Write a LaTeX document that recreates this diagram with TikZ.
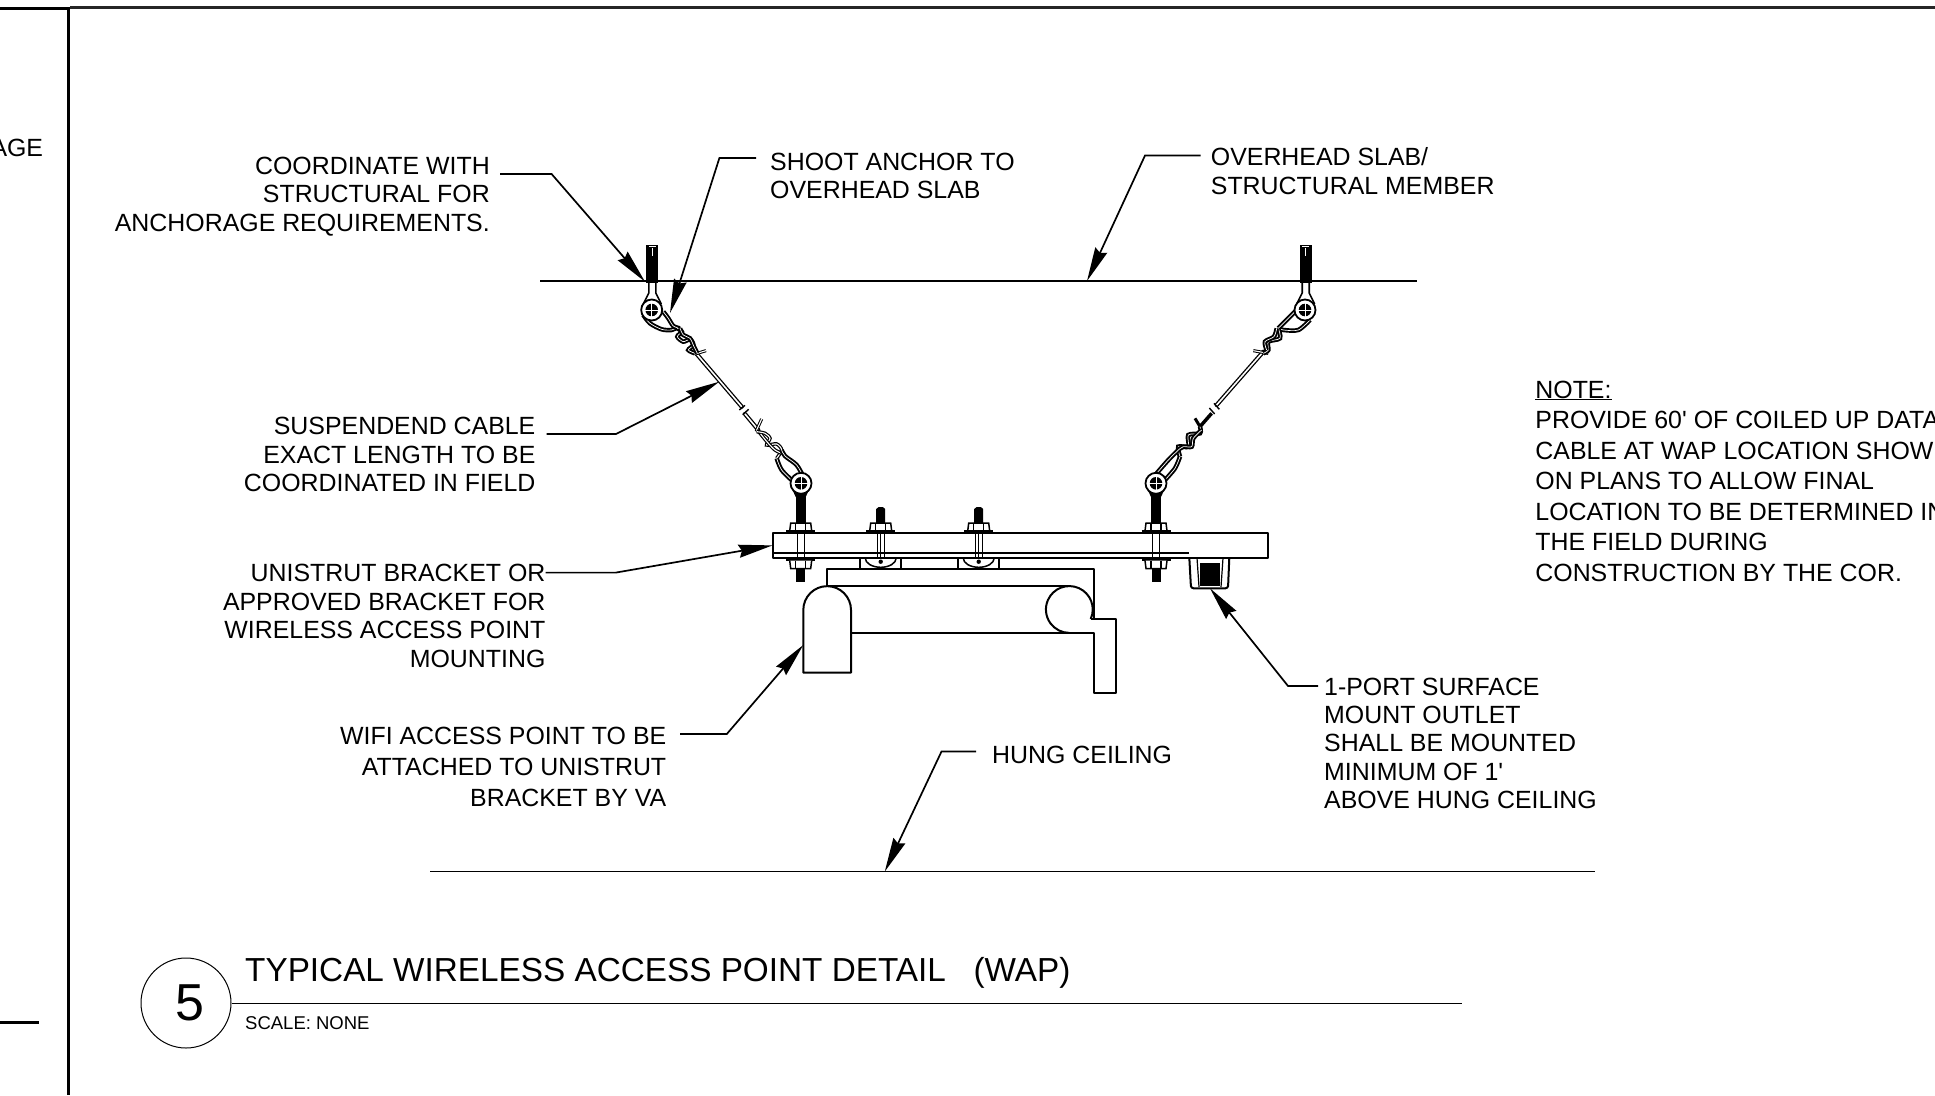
\documentclass[tikz,border=0pt]{standalone}
\usepackage{fontspec}
\setmainfont{Liberation Sans}[Ligatures=TeXOff]
\usetikzlibrary{arrows.meta}

\tikzset{
  lbl/.style={font=\fontsize{24.9}{28.4}\selectfont,inner ysep=0pt,inner xsep=0pt},
  lbllt/.style={lbl,align=left,anchor=base west},
  lblrt/.style={lbl,align=right,anchor=base east},
  leader/.style={line width=1.7pt,-{Stealth[length=34pt,width=13pt,inset=3pt]}},
  part/.style={line width=2pt,line join=round},
  wire/.style={line width=1.3pt,double=white,double distance=1.6pt,line cap=round},
  strand/.style={line width=1.9pt,double=white,double distance=.7pt},
  eyebolt/.pic={
    \draw[line width=1.8pt,fill=white] (0,0) circle[radius=10.5];
    \fill (0,0) circle[radius=6.3];
    \draw[white,line width=.5pt] (-9,0) -- (9,0) (0,-9) -- (0,9);
  }
}

\begin{document}
\begin{tikzpicture}[x=1pt,y=-1pt]
  \useasboundingbox (0,0) rectangle (1935,1095);

  % sheet frame
  \draw[line width=3pt] (0,8) -- (70,8);
  \draw[line width=2.4pt,black!85] (70,7.5) -- (1935,7.5);
  \draw[line width=3pt] (68.5,7.5) -- (68.5,1095);
  \draw[line width=3pt] (0,1022) -- (39,1022);
  \node[lbl,anchor=base east] (sheettext) at (43.3,156) {AGE};

  % slab and ceiling
  \draw[line width=1.7pt] (540,281.3) -- (1417,281.3);
  \draw[line width=1.3pt] (430,871.8) -- (1595,871.8);

  % bracket
  \draw[part] (772.7,533) rectangle (1268,557.7);
  \draw[part] (772.7,553) -- (1189,553);

  % plate and access point
  \draw[part] (826.7,586) -- (826.7,569.3) -- (1094,569.3) -- (1094,619);
  \draw[part] (826.7,586) -- (1069.3,586);
  \draw[part,fill=white] (803.3,672.7) -- (803.3,610) arc[start angle=180,end angle=360,radius=23.85]
    -- (851.0,672.7) -- cycle;
  \draw[part] (851,633.3) -- (1094,633.3) -- (1094,693.3) -- (1116,693.3) -- (1116,619) -- (1091,619);
  \draw[part] (1090.7,619) arc[start angle=24,end angle=-270,radius=23.4];

  % clamps
  \foreach \x in {880.7,978.7} {
    \draw[part] (\x-20.5,557.7) rectangle (\x+20.5,569.3);
    \draw[line width=1.5pt] (\x-15.5,558) arc[start angle=180,end angle=0,x radius=15.5,y radius=9.3];
    \fill (\x,561.7) circle[radius=2.2];
  }

  % bolts
  \foreach \x in {800.7,880.7,978.7,1156} {
    \draw[line width=1.5pt,fill=white] (\x-11,531) -- (\x-10,523) -- (\x+10,523) -- (\x+11,531);
    \draw[line width=1.2pt] (\x-5,523) -- (\x-5,531) (\x+5,523) -- (\x+5,531);
    \draw[line width=2.6pt] (\x-14.5,531.5) -- (\x+14.5,531.5);
    \draw[line width=1.4pt] (\x-3.5,533) -- (\x-3.5,558) (\x+3.5,533) -- (\x+3.5,558);
  }
  \foreach \x in {880.7,978.7} {
    \fill (\x-4.5,509) -- (\x-2,507) -- (\x+2,507) -- (\x+4.5,509) -- (\x+4.5,523) -- (\x-4.5,523) -- cycle;
    \draw[line width=1pt] (\x,533) -- (\x,558);
  }
  \foreach \x in {800.7,1156} {
    \fill (\x-5,493) rectangle (\x+5,523);
    \fill (\x-10,486) -- (\x+10,486) -- (\x+5,497) -- (\x-5,497) -- cycle;
    \draw[line width=2.6pt] (\x-14.5,559.5) -- (\x+14.5,559.5);
    \draw[line width=1.5pt,fill=white] (\x-11,560.5) -- (\x-10,568.5) -- (\x+10,568.5) -- (\x+11,560.5);
    \draw[line width=1.2pt] (\x-5,560.5) -- (\x-5,568.5) (\x+5,560.5) -- (\x+5,568.5);
    \fill (\x-4.5,569) rectangle (\x+4.5,581.7);
  }

  % anchors
  \foreach \x in {652.3,1305.7} {
    \fill (\x-6,244.5) rectangle (\x+6,282.5);
    \draw[white,line width=.5pt] (\x-3.5,246.5) -- (\x+3.5,246.5) (\x,248) -- (\x,256);
    \draw[line width=1.6pt] (\x-3.5,282) -- (\x-3.5,293) -- (\x-9,304) (\x+3.5,282) -- (\x+3.5,293) -- (\x+9,304);
  }

  % left cable
  \begin{scope}[shift={(600,220)},x=.3333pt,y=-.3333pt]
    \draw[wire] (290,402) -- (425,560);
    \draw[wire] (435,582) -- (475,630);
    \draw[line width=1.4pt] (418,570) -- (435,556) (428,584) -- (446,568);
    \draw[strand,line width=1pt,double distance=1.1pt] (285,402) -- (318,392);
    \draw[strand,line width=1pt,double distance=1.1pt] (485,597) -- (470,630) -- (482,642);
    \draw[strand] plot[smooth] coordinates {(130,285) (150,310) (185,328) (215,330) (232,322)};
    \draw[strand] plot[smooth] coordinates {(190,275) (205,295) (220,318) (240,325)};
    \draw[strand] plot[smooth] coordinates {(232,325) (245,335) (232,350) (250,365) (270,358) (280,375) (265,390) (285,400)};
    \draw[strand] plot[smooth] coordinates {(240,325) (250,345) (270,355) (282,380) (292,400)};
    \draw[strand,line width=1.2pt,double distance=1.1pt] plot[smooth] coordinates {(470,635) (495,640) (510,655) (500,675) (530,672) (545,690) (530,715)};
    \draw[strand,line width=1.2pt,double distance=1.1pt] plot[smooth] coordinates {(482,642) (505,670) (525,690) (545,700)};
    \draw[strand] plot[smooth] coordinates {(530,715) (545,750) (580,785)};
    \draw[strand] plot[smooth] coordinates {(545,690) (555,708) (590,735) (610,770)};
  \end{scope}

  % right cable
  \begin{scope}[shift={(1120,230)},x=.3333pt,y=-.3333pt]
    \draw[wire] (430,365) -- (290,525);
    \draw[line width=1.4pt] (282,520) -- (298,538) (268,534) -- (284,552);
    \draw[strand,line width=1pt,double distance=1.1pt] (400,362) -- (445,370);
    \draw[line width=3.5pt] (275,550) -- (240,590);
    \draw[line width=3pt] (225,565) -- (240,590);
    \draw[strand] plot[smooth] coordinates {(570,270) (535,300) (490,300) (475,295)};
    \draw[strand] plot[smooth] coordinates {(530,240) (500,270) (475,295)};
    \draw[strand] plot[smooth] coordinates {(475,295) (480,325) (445,335) (445,360) (430,370)};
    \draw[strand] plot[smooth] coordinates {(470,295) (462,320) (435,335) (440,360)};
    \draw[strand] plot[smooth] coordinates {(240,590) (240,610) (205,615) (205,650) (175,650) (180,680)};
    \draw[strand] plot[smooth] coordinates {(245,600) (220,625) (215,650) (190,650) (175,660)};
    \draw[strand] plot[smooth] coordinates {(175,660) (145,690) (110,730)};
    \draw[strand] plot[smooth] coordinates {(180,680) (165,715) (135,750)};
  \end{scope}

  \pic at (651.7,310) {eyebolt};
  \pic at (1305,310) {eyebolt};
  \pic at (801,483.3) {eyebolt};
  \pic at (1156,483.3) {eyebolt};

  % outlet
  \draw[part,rounded corners=2.5pt] (1189.3,557.7) -- (1191,588.3) -- (1228,588.3) -- (1229.3,557.7);
  \draw[line width=1.2pt] (1197,558) -- (1199,587) (1223,558) -- (1221,587);
  \fill (1200,563) rectangle (1220,586);

  % labels
  \node[lblrt,inner xsep=10pt] (coordlbl) at (500,231) {COORDINATE WITH\\STRUCTURAL FOR\\ANCHORAGE REQUIREMENTS.};
  \node[lbllt,inner xsep=14pt] (shootlbl) at (756,198.5) {SHOOT ANCHOR TO\\OVERHEAD SLAB};
  \node[lbllt,inner xsep=10pt] (slablbl) at (1200.7,194) {OVERHEAD SLAB/\\STRUCTURAL MEMBER};
  \node[lblrt,inner xsep=11pt] (cablelbl) at (546.6,491.5) {SUSPENDEND CABLE\\EXACT LENGTH TO BE\\COORDINATED IN FIELD};
  \node[lblrt] (bracketlbl) at (545.6,667) {UNISTRUT BRACKET OR\\APPROVED BRACKET FOR\\WIRELESS ACCESS POINT\\MOUNTING};
  \node[lblrt,inner xsep=13.6pt,font=\fontsize{24.9}{30.8}\selectfont] (wifilbl) at (680,806) {WIFI ACCESS POINT TO BE\\ATTACHED TO UNISTRUT\\BRACKET BY VA};
  \node[lbllt,inner xsep=16pt] (hunglbl) at (976,763) {HUNG CEILING};
  \node[lbllt,inner xsep=6pt] (outletlbl) at (1318,808.6) {1-PORT SURFACE\\MOUNT OUTLET\\SHALL BE MOUNTED\\MINIMUM OF 1'\\ABOVE HUNG CEILING};
  \node[lbllt,font=\fontsize{24.9}{30.5}\selectfont] (notelbl) at (1535.2,581) {\underline{NOTE:}\\PROVIDE 60' OF COILED UP DATA\\CABLE AT WAP LOCATION SHOWN\\ON PLANS TO ALLOW FINAL\\LOCATION TO BE DETERMINED IN\\THE FIELD DURING\\CONSTRUCTION BY THE COR.};

  % leaders
  \coordinate (coordkink) at (551.6,174);
  \coordinate (coordtip) at (645,281.7);
  \coordinate (shootkink) at (719.4,158);
  \coordinate (shoottip) at (670,313);
  \coordinate (slabkink) at (1145,155.5);
  \coordinate (slabtip) at (1087,281);
  \coordinate (cablekink) at (616,434);
  \coordinate (cabletip) at (719.3,381.7);
  \coordinate (bracketkink) at (615.8,572.6);
  \coordinate (brackettip) at (772.5,545.4);
  \coordinate (wifikink) at (726.8,734);
  \coordinate (wifitip) at (803.3,645);
  \coordinate (hungkink) at (941.5,751.5);
  \coordinate (hungtip) at (884.8,871.5);
  \coordinate (outletkink) at (1288,686);
  \coordinate (outlettip) at (1210,588.3);
  \draw[leader] (coordlbl.east |- coordkink) -- (coordkink) -- (coordtip);
  \draw[leader] (shootlbl.west |- shootkink) -- (shootkink) -- (shoottip);
  \draw[leader] (slablbl.west |- slabkink) -- (slabkink) -- (slabtip);
  \draw[leader] (cablelbl.east |- cablekink) -- (cablekink) -- (cabletip);
  \draw[leader] (bracketlbl.east |- bracketkink) -- (bracketkink) -- (brackettip);
  \draw[leader] (wifilbl.east |- wifikink) -- (wifikink) -- (wifitip);
  \draw[leader] (hunglbl.west |- hungkink) -- (hungkink) -- (hungtip);
  \draw[leader] (outletlbl.west |- outletkink) -- (outletkink) -- (outlettip);

  % title
  \node[draw,circle,line width=1pt,minimum size=90pt,inner sep=0pt,font=\fontsize{52}{52}\selectfont] (detailno) at (186,1003) {\hspace*{7pt}5};
  \coordinate (titleend) at (1462,1003);
  \draw[line width=1pt] (detailno) -- (titleend);
  \node[lbl,anchor=base west,font=\fontsize{33.3}{36}\selectfont] (titlelbl) at (245,981) {TYPICAL WIRELESS ACCESS POINT DETAIL\ \ \ (WAP)};
  \node[lbl,anchor=base west,font=\fontsize{18.5}{20}\selectfont] (scalelbl) at (245,1029) {SCALE: NONE};
\end{tikzpicture}
\end{document}
